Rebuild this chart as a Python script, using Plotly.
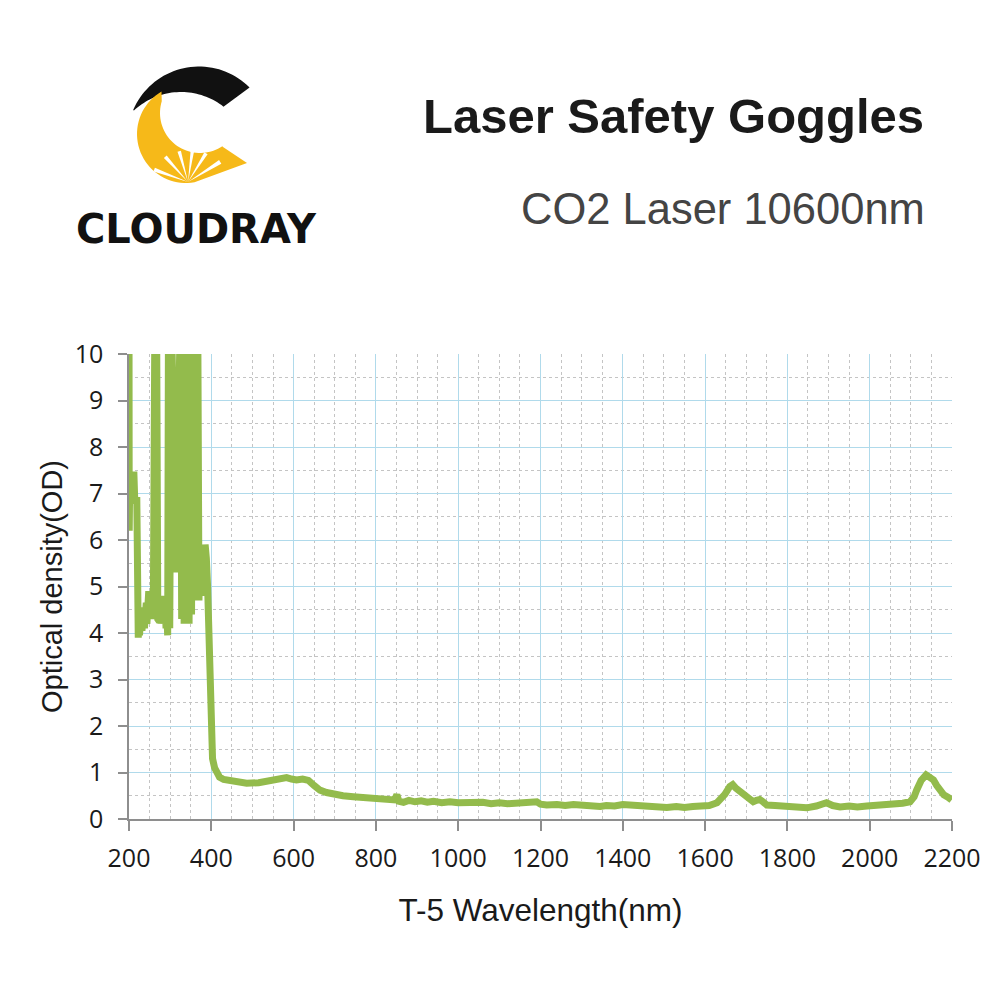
import numpy as np
import plotly.graph_objects as go

# ---------------- data ----------------
wavelength_nm = [
    200, 200.5, 202, 212, 214, 219, 221, 222.5, 224, 225.5, 227, 228.5, 230, 231.5, 233, 234.5,
    236, 237.5, 239, 240.5, 242, 243.5, 245, 246.5, 248, 249.5, 251, 252.5, 254, 255.5, 257, 259,
    263, 267, 270, 272, 274, 276, 278, 280, 282, 284, 286, 288, 290, 292, 294, 296,
    299, 303, 314, 325, 328, 331, 334, 337, 340, 343, 346, 349, 352, 355, 358, 361,
    364, 367, 370, 373, 376, 379, 382, 385, 388, 391, 393, 396, 399, 403, 408, 414,
    420, 430, 440, 460, 486, 515, 543, 565, 583, 595, 607, 622, 636, 650, 664, 680,
    697, 720, 745, 770, 800, 830, 845, 851, 856, 867, 880, 895, 910, 925, 940, 960,
    980, 1000, 1020, 1040, 1060, 1080, 1100, 1120, 1140, 1160, 1180, 1191, 1200, 1215, 1240, 1260,
    1280, 1300, 1320, 1345, 1360, 1380, 1400, 1425, 1445, 1465, 1490, 1507, 1530, 1550, 1570, 1588,
    1610, 1629, 1648, 1660, 1667, 1675, 1687, 1701, 1710, 1717, 1725, 1733, 1742, 1750, 1770, 1798,
    1820, 1847, 1870, 1885, 1895, 1910, 1928, 1950, 1970, 1993, 2015, 2035, 2057, 2080, 2098, 2108,
    2114, 2125, 2137, 2145, 2155, 2163, 2171, 2180, 2190, 2199,
]
optical_density = [
    11, 6.2, 7.4, 7.4, 6.85, 6.85, 4.0, 3.9, 4.3, 3.95, 4.4, 4.0, 4.5, 4.05, 4.45, 4.1,
    4.55, 4.1, 4.6, 4.15, 4.65, 4.2, 4.7, 4.25, 4.9, 4.3, 4.85, 4.35, 4.9, 4.3, 4.8, 4.3,
    11, 11, 4.3, 4.8, 4.25, 4.8, 4.2, 4.75, 4.25, 4.8, 4.2, 4.7, 4.1, 4.4, 3.95, 11,
    4.1, 11, 5.3, 11, 4.3, 11, 4.2, 11, 4.4, 11, 4.2, 11, 4.4, 11, 4.7, 11,
    5.0, 11, 4.7, 5.9, 4.8, 5.9, 5.0, 5.9, 5.6, 5.0, 4.3, 2.4, 1.6, 1.3, 1.1, 0.97,
    0.9, 0.85, 0.83, 0.79, 0.77, 0.78, 0.81, 0.84, 0.89, 0.86, 0.84, 0.86, 0.83, 0.72, 0.62, 0.57,
    0.53, 0.50, 0.48, 0.46, 0.45, 0.43, 0.41, 0.52, 0.38, 0.36, 0.40, 0.37, 0.39, 0.36, 0.38, 0.35,
    0.37, 0.35, 0.36, 0.34, 0.36, 0.33, 0.35, 0.33, 0.34, 0.32, 0.34, 0.37, 0.32, 0.30, 0.31, 0.29,
    0.31, 0.29, 0.30, 0.27, 0.29, 0.28, 0.31, 0.29, 0.27, 0.29, 0.26, 0.25, 0.27, 0.25, 0.27, 0.27,
    0.29, 0.35, 0.53, 0.70, 0.74, 0.66, 0.58, 0.52, 0.44, 0.37, 0.40, 0.42, 0.36, 0.30, 0.29, 0.27,
    0.26, 0.24, 0.28, 0.33, 0.35, 0.29, 0.26, 0.28, 0.26, 0.28, 0.29, 0.30, 0.33, 0.34, 0.37, 0.48,
    0.62, 0.83, 0.95, 0.90, 0.84, 0.72, 0.59, 0.52, 0.47, 0.41,
]

x_range = [200, 2200]
y_range = [0, 10]
x_major_step, x_minor_step = 200, 50
y_major_step, y_minor_step = 1, 0.5

title_text = "Laser Safety Goggles"
subtitle_text = "CO2 Laser 10600nm"
x_title = "T-5 Wavelength(nm)"
y_title = "Optical density(OD)"
brand_text = "CLOUDRAY"

LINE_GREEN = "#93BB4C"
GRID_BLUE = "#B0DAEB"
GRID_DOT = "#C4C4C4"
AXIS_GRAY = "#8E8E8E"
LOGO_YELLOW = "#F6B919"
LOGO_BLACK = "#111111"

# ---------------- figure ----------------
fig = go.Figure()
fig.add_trace(go.Scatter(
    x=wavelength_nm, y=optical_density, mode="lines",
    line=dict(color=LINE_GREEN, width=7), showlegend=False, hoverinfo="x+y",
))

W = H = 1000
OFF = 8  # the page adds an 8px body margin


def px_x(px):
    return (px - OFF) / W


def px_y(py):
    return 1 - (py - OFF) / H


def poly_path(points):
    return "M " + " L ".join(f"{px_x(x):.5f},{px_y(y):.5f}" for x, y in points) + " Z"


def arc(cx, cy, r, a0, a1, n=40):
    a = np.radians(np.linspace(a0, a1, n))
    return list(zip(cx + r * np.cos(a), cy + r * np.sin(a)))


shapes = []
# black swoosh of the logo
outer = arc(199, 138, 71.5, -157, -45)
inner = arc(181, 161, 69, -52, -133)
shapes.append(dict(type="path", xref="paper", yref="paper", path=poly_path(outer + inner),
                   fillcolor=LOGO_BLACK, line=dict(width=0)))
# yellow C
c_outer = arc(186, 134, 49, -120, -280)
c_inner = arc(200, 113, 40, 56, 197)
shapes.append(dict(type="path", xref="paper", yref="paper",
                   path=poly_path(c_outer + [(247, 163), (223, 147)] + c_inner),
                   fillcolor=LOGO_YELLOW, line=dict(width=0)))
# white light rays cut into the C
for ang, ln in [(-70, 36), (-42, 34), (-16, 32), (8, 32), (32, 34), (58, 38)]:
    apex = (188, 182)
    pts = [apex]
    for d in (-3.2, 3.2):
        t = np.radians(ang + d - 90)
        pts.append((apex[0] + ln * np.cos(t), apex[1] + ln * np.sin(t)))
    shapes.append(dict(type="path", xref="paper", yref="paper", path=poly_path(pts),
                       fillcolor="white", line=dict(width=0)))

annotations = [
    dict(text=brand_text, x=px_x(196), y=px_y(229), xref="paper", yref="paper",
         xanchor="center", yanchor="middle", showarrow=False,
         font=dict(family="DejaVu Sans", size=40, color=LOGO_BLACK, weight="bold")),
    dict(text=f"<b>{title_text}</b>", x=px_x(926), y=px_y(116), xref="paper", yref="paper",
         xanchor="right", yanchor="middle", showarrow=False,
         font=dict(family="Liberation Sans, Arial", size=49, color="#1a1a1a")),
    dict(text=subtitle_text, x=px_x(927), y=px_y(209), xref="paper", yref="paper",
         xanchor="right", yanchor="middle", showarrow=False,
         font=dict(family="Liberation Sans, Arial", size=43.5, color="#444444")),
]

fig.update_layout(
    width=W, height=H, margin=dict(l=0, r=0, t=0, b=0),
    paper_bgcolor="white", plot_bgcolor="white", template="none",
    shapes=shapes, annotations=annotations, showlegend=False,
    xaxis=dict(
        domain=[px_x(129), px_x(952)], range=x_range, tick0=x_range[0], dtick=x_major_step,
        showgrid=True, gridcolor=GRID_BLUE, gridwidth=1.2, zeroline=False,
        showline=True, linecolor=AXIS_GRAY, linewidth=1.5,
        ticks="outside", ticklen=10, tickwidth=1.5, tickcolor=AXIS_GRAY,
        tickfont=dict(family="Open Sans", size=25, color="#1a1a1a"),
        ticklabelstandoff=6,
        minor=dict(dtick=x_minor_step, tick0=x_range[0], showgrid=True, gridcolor=GRID_DOT,
                   griddash="dot", gridwidth=1, ticks=""),
        title=dict(text=x_title, font=dict(family="Liberation Sans, Arial", size=31.5, color="#1a1a1a"),
                   standoff=26),
        automargin=False, fixedrange=True,
    ),
    yaxis=dict(
        domain=[px_y(819), px_y(354)], range=y_range, tick0=0, dtick=y_major_step,
        showgrid=True, gridcolor=GRID_BLUE, gridwidth=1.2, zeroline=False,
        showline=True, linecolor=AXIS_GRAY, linewidth=1.5,
        ticks="outside", ticklen=9, tickwidth=1.5, tickcolor=AXIS_GRAY,
        tickfont=dict(family="Open Sans", size=25, color="#1a1a1a"),
        ticklabelstandoff=10,
        minor=dict(dtick=y_minor_step, tick0=0, showgrid=True, gridcolor=GRID_DOT,
                   griddash="dot", gridwidth=1, ticks=""),
        title=dict(text=y_title, font=dict(family="Liberation Sans, Arial", size=29, color="#1a1a1a"),
                   standoff=4),
        automargin=False, fixedrange=True,
    ),
)

fig.write_html("out.html")
